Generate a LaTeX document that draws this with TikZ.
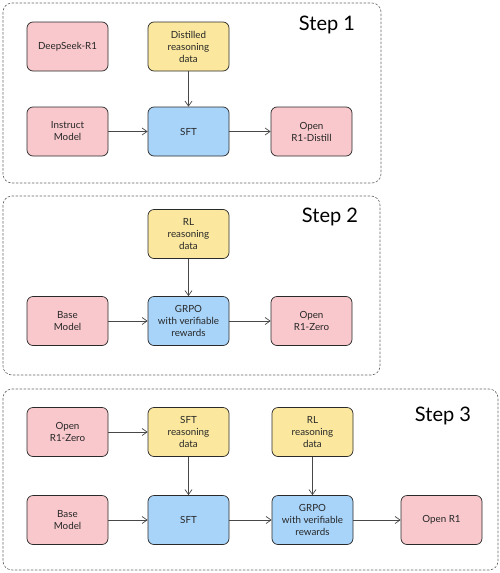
\documentclass[tikz,border=0pt]{standalone}
\usepackage{fontspec}
\setmainfont{Lato}
\usetikzlibrary{arrows.meta}
\definecolor{pinkf}{HTML}{F8C8CC}
\definecolor{yellowf}{HTML}{FBE89E}
\definecolor{bluef}{HTML}{A8D4FA}
\definecolor{edgec}{HTML}{2A2A2A}
\definecolor{framec}{HTML}{666666}
\definecolor{arrowc}{HTML}{484848}
\tikzset{
  box/.style={draw=edgec, line width=0.7pt, rounded corners=6pt, minimum width=81pt, minimum height=49pt,
    align=center, font=\fontsize{9.8}{12}\selectfont, text=black!85, inner sep=1pt},
  pinkbox/.style={box, fill=pinkf},
  yellowbox/.style={box, fill=yellowf},
  bluebox/.style={box, fill=bluef},
  frame/.style={draw=framec, dashed, dash pattern=on 2.5pt off 1.5pt, line width=0.6pt, rounded corners=9pt},
  steplabel/.style={font=\fontsize{20}{23}\selectfont, text=black},
  conn/.style={draw=arrowc, line width=0.7pt, -{Straight Barb[length=5pt,width=7pt]}}
}
\begin{document}
\begin{tikzpicture}[x=1pt,y=-1pt]
\useasboundingbox (0,0) rectangle (500,573);
% frames
\draw[frame] (3,3) rectangle (381,183);
\draw[frame] (3,196) rectangle (380,375);
\draw[frame] (3,389) rectangle (498,570);
\node[steplabel] (s1) at (327,25) {Step 1};
\node[steplabel] (s2) at (330,217) {Step 2};
\node[steplabel] (s3) at (443,416) {Step 3};
% Step 1
\node[pinkbox] (ds) at (67.5,46.5) {DeepSeek-R1};
\node[yellowbox] (dist) at (188.5,46.5) {Distilled\\reasoning\\data};
\node[pinkbox] (inst) at (67.5,131.5) {Instruct\\Model};
\node[bluebox] (sft1) at (188.5,131.5) {SFT};
\node[pinkbox] (od) at (311.5,131.5) {Open\\R1-Distill};
\draw[conn] (dist) -- (sft1);
\draw[conn] (inst) -- (sft1);
\draw[conn] (sft1) -- (od);
% Step 2
\node[yellowbox] (rl2) at (188.5,234) {RL\\reasoning\\data};
\node[pinkbox] (base2) at (67.5,321) {Base\\Model};
\node[bluebox] (grpo2) at (188.5,321) {GRPO\\with verifiable\\rewards};
\node[pinkbox] (zero2) at (311.5,321) {Open\\R1-Zero};
\draw[conn] (rl2) -- (grpo2);
\draw[conn] (base2) -- (grpo2);
\draw[conn] (grpo2) -- (zero2);
% Step 3
\node[pinkbox] (zero3) at (67.5,432) {Open\\R1-Zero};
\node[yellowbox] (sftd) at (188.5,432) {SFT\\reasoning\\data};
\node[yellowbox] (rl3) at (312.5,432) {RL\\reasoning\\data};
\node[pinkbox] (base3) at (67.5,520) {Base\\Model};
\node[bluebox] (sft3) at (188.5,520) {SFT};
\node[bluebox] (grpo3) at (312.5,520) {GRPO\\with verifiable\\rewards};
\node[pinkbox] (r1) at (441.5,520) {Open R1};
\draw[conn] (zero3) -- (sftd);
\draw[conn] (sftd) -- (sft3);
\draw[conn] (base3) -- (sft3);
\draw[conn] (sft3) -- (grpo3);
\draw[conn] (rl3) -- (grpo3);
\draw[conn] (grpo3) -- (r1);
\end{tikzpicture}
\end{document}
